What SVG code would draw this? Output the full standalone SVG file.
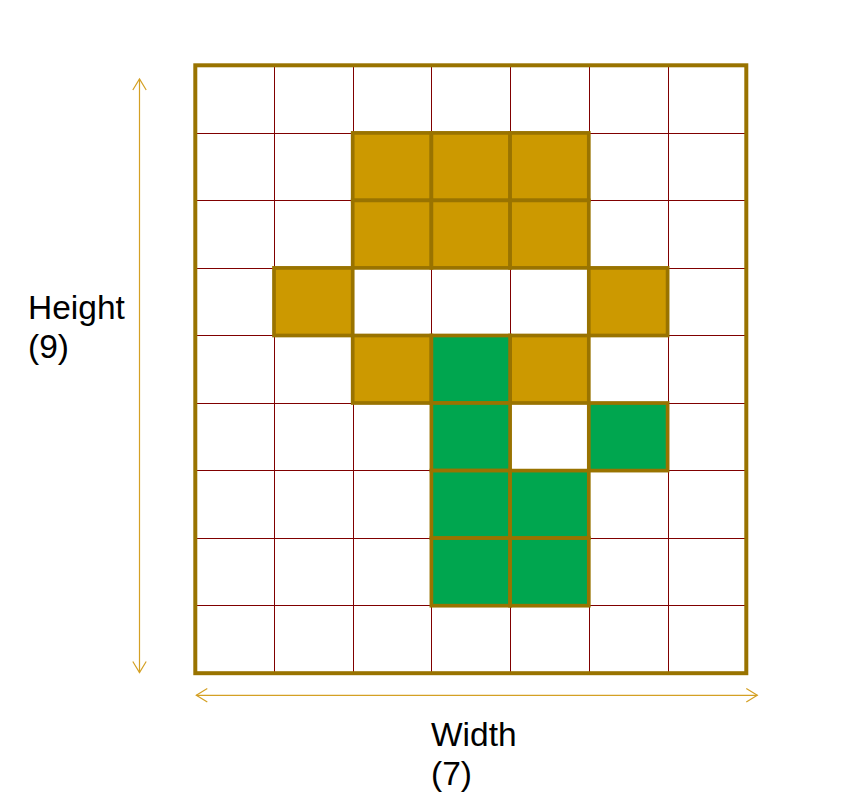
<svg xmlns="http://www.w3.org/2000/svg" width="864" height="808" viewBox="0 0 864 808">
<style>
.grid{stroke:#800000;stroke-width:1;fill:none}
.cell{stroke:#997300;stroke-width:3.7}
.gold{fill:#CC9900}
.green{fill:#00A64F}
.dim{stroke:#D4A024;stroke-width:1.2;fill:none}
.lbl{font-family:"Liberation Sans",Arial,sans-serif;font-size:33.5px;fill:#000}
</style>
<defs>
<marker id="ah" viewBox="-12 -8 14 16" markerWidth="14" markerHeight="16" refX="0" refY="0" orient="auto-start-reverse" markerUnits="userSpaceOnUse">
<path d="M-11,-6.7 L0,0 L-11,6.7" fill="none" stroke="#D4A024" stroke-width="1.2"/>
</marker>
</defs>
<rect width="864" height="808" fill="#fff"/>
<g id="grid">
<rect x="195.3" y="65.3" width="551" height="607.9" fill="#fff"/>
<g class="grid">
<line x1="274.5" y1="65.3" x2="274.5" y2="673.2"/>
<line x1="353.5" y1="65.3" x2="353.5" y2="673.2"/>
<line x1="431.5" y1="65.3" x2="431.5" y2="673.2"/>
<line x1="510.5" y1="65.3" x2="510.5" y2="673.2"/>
<line x1="589.5" y1="65.3" x2="589.5" y2="673.2"/>
<line x1="668.5" y1="65.3" x2="668.5" y2="673.2"/>
<line x1="195.3" y1="133.5" x2="746.3" y2="133.5"/>
<line x1="195.3" y1="200.5" x2="746.3" y2="200.5"/>
<line x1="195.3" y1="268.5" x2="746.3" y2="268.5"/>
<line x1="195.3" y1="335.5" x2="746.3" y2="335.5"/>
<line x1="195.3" y1="403.5" x2="746.3" y2="403.5"/>
<line x1="195.3" y1="470.5" x2="746.3" y2="470.5"/>
<line x1="195.3" y1="538.5" x2="746.3" y2="538.5"/>
<line x1="195.3" y1="605.5" x2="746.3" y2="605.5"/>
</g>
</g>
<g id="cells">
<rect class="cell gold" x="352.7" y="132.9" width="78.7" height="67.5"/>
<rect class="cell gold" x="431.4" y="132.9" width="78.7" height="67.5"/>
<rect class="cell gold" x="510.1" y="132.9" width="78.7" height="67.5"/>
<rect class="cell gold" x="352.7" y="200.4" width="78.7" height="67.5"/>
<rect class="cell gold" x="431.4" y="200.4" width="78.7" height="67.5"/>
<rect class="cell gold" x="510.1" y="200.4" width="78.7" height="67.5"/>
<rect class="cell gold" x="274" y="267.9" width="78.7" height="67.6"/>
<rect class="cell gold" x="588.8" y="267.9" width="78.8" height="67.6"/>
<rect class="cell gold" x="352.7" y="335.5" width="78.7" height="67.5"/>
<rect class="cell gold" x="510.1" y="335.5" width="78.7" height="67.5"/>
<rect class="cell green" x="431.4" y="335.5" width="78.7" height="67.5"/>
<rect class="cell green" x="431.4" y="403" width="78.7" height="67.6"/>
<rect class="cell green" x="588.8" y="403" width="78.8" height="67.6"/>
<rect class="cell green" x="431.4" y="470.6" width="78.7" height="67.5"/>
<rect class="cell green" x="510.1" y="470.6" width="78.7" height="67.5"/>
<rect class="cell green" x="431.4" y="538.1" width="78.7" height="67.6"/>
<rect class="cell green" x="510.1" y="538.1" width="78.7" height="67.6"/>
</g>
<g id="border">
<rect x="195.3" y="65.3" width="551" height="607.9" fill="none" stroke="#997300" stroke-width="4"/>
</g>
<g id="connectors">
<line class="dim" x1="139.5" y1="79" x2="139.5" y2="672.5" marker-start="url(#ah)" marker-end="url(#ah)"/>
<line class="dim" x1="196.3" y1="695.3" x2="757.3" y2="695.3" marker-start="url(#ah)" marker-end="url(#ah)"/>
</g>
<g id="labels">
<text class="lbl" x="28" y="319">Height</text>
<text class="lbl" x="28" y="357.5">(9)</text>
<text class="lbl" x="431" y="745.7">Width</text>
<text class="lbl" x="431" y="784.5">(7)</text>
</g>
</svg>
